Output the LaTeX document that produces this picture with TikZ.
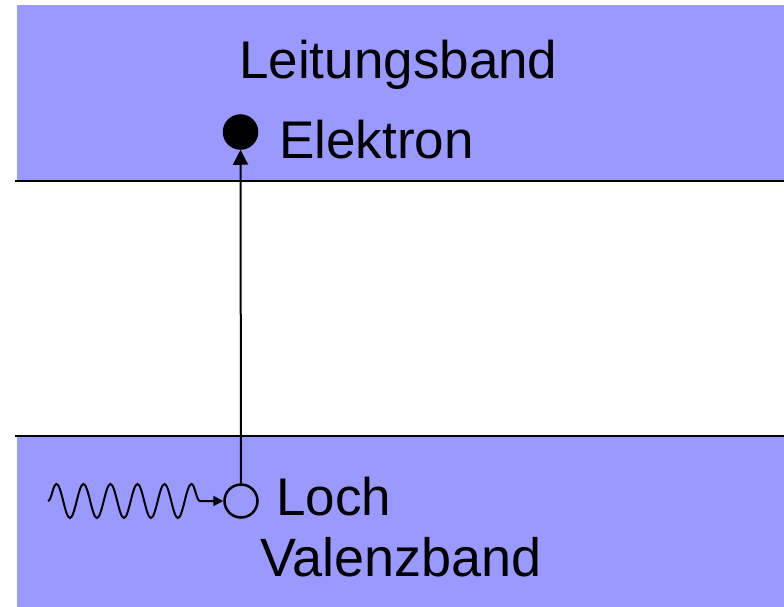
\documentclass[tikz,border=0pt]{standalone}
\usepackage{fontspec}
\setmainfont{Liberation Sans}
\usetikzlibrary{arrows.meta,decorations.pathmorphing}
\definecolor{bandblue}{HTML}{9999FF}

\begin{document}
\begin{tikzpicture}[x=1pt,y=-1pt,
    edge/.style={line width=2pt},
    lbl/.style={font=\fontsize{53}{60}\selectfont,inner sep=0pt,anchor=base west},
    particle/.style={circle,draw,line width=2.5pt,minimum size=33pt,inner sep=0pt}]
    \useasboundingbox (0,0) rectangle (784,607);
    % Leitungsband und Valenzband
    \fill[bandblue] (17,5) rectangle (784,181);
    \fill[bandblue] (17,436) rectangle (784,607);
    \draw[edge] (15,181) -- (784,181);
    \draw[edge] (15,436) -- (784,436);
    \node[lbl] at (239,79) {Leitungsband};
    \node[lbl,font=\fontsize{54}{60}\selectfont] at (260,576) {Valenzband};
    % Elektron und Loch
    \node[particle,fill=black] (elektron) at (240.5,132) {};
    \node[particle] (loch) at (241,501) {};
    \node[lbl] at (279,158) {Elektron};
    \node[lbl] at (276,515) {Loch};
    \draw[edge,-{Triangle[width=15pt,length=15pt]}] (loch) -- (elektron);
    % Photon
    \coordinate (photon) at (48,501);
    \draw[line width=2pt,-{Triangle[width=10pt,length=10pt]},
        decorate,decoration={snake,amplitude=17pt,segment length=27pt,post length=16pt}]
        (photon) -- (loch);
\end{tikzpicture}
\end{document}
